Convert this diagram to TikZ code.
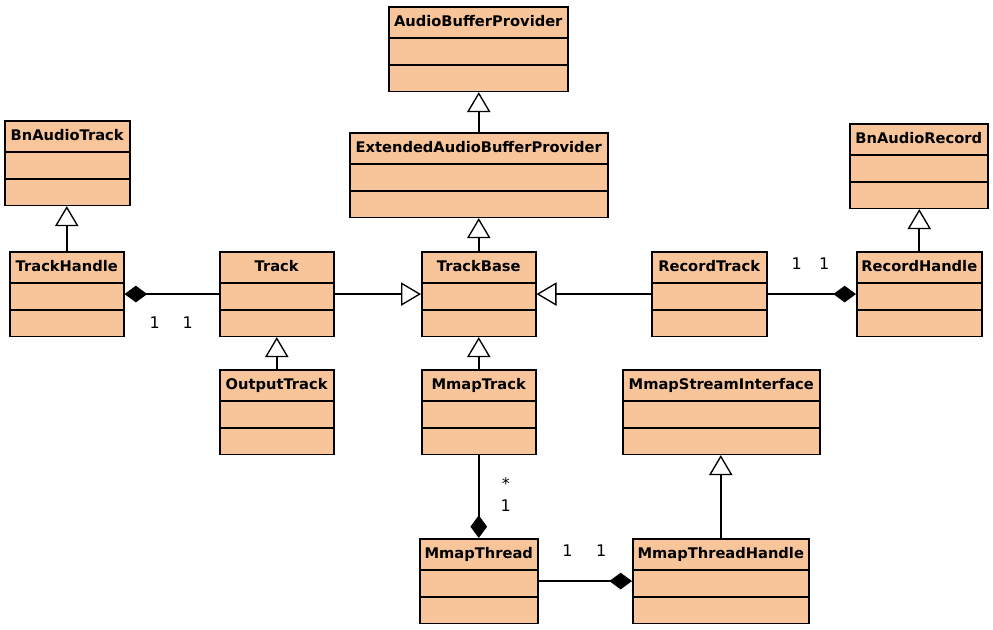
\documentclass[tikz,border=0pt]{standalone}
\usepackage{fontspec}
\setmainfont{DejaVu Sans}
\usetikzlibrary{shapes.multipart,arrows.meta}
\definecolor{classfill}{RGB}{248,197,154}
\newcommand{\headstrut}{\rule[-7.9pt]{0pt}{22.4pt}}
\newcommand{\bodystrut}{\rule{0pt}{18.8pt}}
\newcommand{\umlbody}[1]{\headstrut\textbf{#1}\nodepart{two}\bodystrut\nodepart{three}\bodystrut}
\tikzset{
  umlclass/.style={rectangle split, rectangle split parts=3, draw=black, line width=1.15pt,
    fill=classfill, inner xsep=3pt, inner ysep=0pt, anchor=north west,
    minimum width=#1*0.75pt, font=\fontsize{11}{13}\selectfont},
  inherit/.style={line width=1.5pt, -{Triangle[length=15pt, width=17.5pt, fill=white, line width=1pt]}},
  compose/.style={line width=1.5pt, -{Diamond[length=17pt, width=12.5pt]}},
  mult/.style={inner sep=0pt, font=\fontsize{12}{14}\selectfont}
}
\begin{document}
\begin{tikzpicture}[x=0.75pt, y=-0.75pt]
            \useasboundingbox (0,0) rectangle (993,629);

            \node[umlclass=179] (abp) at (388,6) {\umlbody{AudioBufferProvider}};
            \node[umlclass=258] (eabp) at (349,132) {\umlbody{ExtendedAudioBufferProvider}};
            \node[umlclass=125] (bnat) at (4,120) {\umlbody{BnAudioTrack}};
            \node[umlclass=138] (bnar) at (849,123) {\umlbody{BnAudioRecord}};

            \node[umlclass=114] (th) at (9,251) {\umlbody{TrackHandle}};
            \node[umlclass=114] (track) at (219,251) {\umlbody{Track}};
            \node[umlclass=114] (tb) at (421,251) {\umlbody{TrackBase}};
            \node[umlclass=115] (rt) at (651,251) {\umlbody{RecordTrack}};
            \node[umlclass=125] (rh) at (856,251) {\umlbody{RecordHandle}};

            \node[umlclass=114] (ot) at (219,369) {\umlbody{OutputTrack}};
            \node[umlclass=114] (mt) at (421,369) {\umlbody{MmapTrack}};
            \node[umlclass=197] (msi) at (622,369) {\umlbody{MmapStreamInterface}};

            \node[umlclass=118] (mth) at (419,538) {\umlbody{MmapThread}};
            \node[umlclass=176] (mthh) at (632,538) {\umlbody{MmapThreadHandle}};

            % generalisation
            \draw[inherit] (eabp.north) -- (eabp.north |- abp.south);
            \draw[inherit] (tb.north) -- (tb.north |- eabp.south);
            \draw[inherit] (th.north) -- (th.north |- bnat.south);
            \draw[inherit] (rh.north) -- (rh.north |- bnar.south);
            \draw[inherit] (track.east) -- (tb.west);
            \draw[inherit] (rt.west) -- (tb.east);
            \draw[inherit] (ot.north) -- (ot.north |- track.south);
            \draw[inherit] (mt.north) -- (tb.south);
            \draw[inherit] (mthh.north) -- (mthh.north |- msi.south);

            % composition
            \draw[compose] (track.west) -- (th.east)
                node[mult, pos=0.33, yshift=-21.75pt] {1}
                node[mult, pos=0.68, yshift=-21.75pt] {1};
            \draw[compose] (rt.east) -- (rh.west)
                node[mult, pos=0.33, yshift=22.5pt] {1}
                node[mult, pos=0.64, yshift=22.5pt] {1};
            \draw[compose] (mt.south) -- (mth.north)
                node[mult, pos=0.34, xshift=20.25pt] {*}
                node[mult, pos=0.61, xshift=20.25pt] {1};
            \draw[compose] (mth.east) -- (mthh.west)
                node[mult, pos=0.31, yshift=22.5pt] {1}
                node[mult, pos=0.67, yshift=22.5pt] {1};

        \end{tikzpicture}
\end{document}
